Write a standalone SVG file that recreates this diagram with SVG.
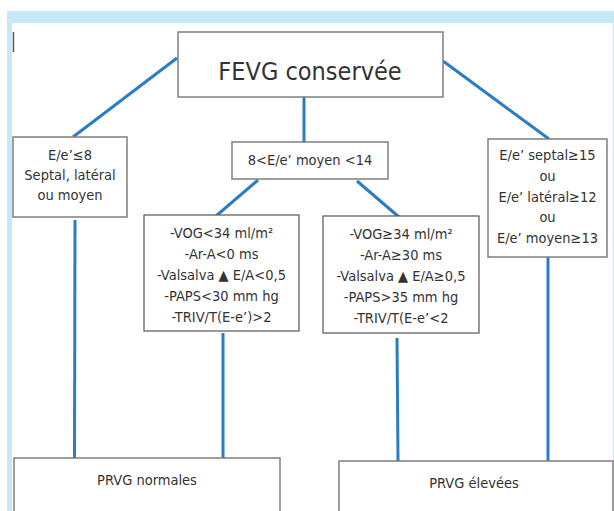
<svg xmlns="http://www.w3.org/2000/svg" width="614" height="511" viewBox="0 0 614 511">
<style>
.t{font-family:"DejaVu Sans Condensed","DejaVu Sans","Liberation Sans",sans-serif;font-stretch:condensed;fill:#333;text-anchor:middle;font-size:14.5px}
.box{fill:#fff;stroke:#7f7f7f;stroke-width:1.5}
.box2{fill:#fff;stroke:#555;stroke-width:1.2}
.c{stroke:#2b7cc4;stroke-width:3;fill:none}
</style>
<rect x="0" y="0" width="614" height="511" fill="#fff"/>
<rect x="7" y="11" width="607" height="500" fill="#c6e9f8"/>
<rect x="12" y="23" width="601" height="488" fill="#fff"/>
<line x1="13.5" y1="32" x2="13.5" y2="52" stroke="#555" stroke-width="1.5"/>
<g id="connectors">
<line class="c" x1="177" y1="58" x2="73" y2="137"/>
<line class="c" x1="443" y1="61" x2="549" y2="139"/>
<line class="c" x1="304" y1="97" x2="304" y2="142"/>
<line class="c" x1="258" y1="180" x2="216" y2="216"/>
<line class="c" x1="357" y1="181" x2="399" y2="217"/>
<line class="c" x1="75" y1="220" x2="74.5" y2="458"/>
<line class="c" x1="223" y1="333" x2="223" y2="458"/>
<line class="c" x1="397" y1="338" x2="398" y2="461"/>
<line class="c" x1="548" y1="257" x2="548" y2="461"/>
</g>
<g id="fevg">
<rect class="box" x="178" y="32" width="265" height="65"/>
<text class="t" x="310" y="80" style="font-size:25px">FEVG conservée</text>
</g>
<g id="ee-low">
<rect class="box" x="13" y="137" width="114" height="80"/>
<text class="t" x="70" y="160">E/e’≤8</text>
<text class="t" x="70" y="180">Septal, latéral</text>
<text class="t" x="70" y="200">ou moyen</text>
</g>
<g id="ee-mid">
<rect class="box" x="232" y="142" width="156" height="37"/>
<text class="t" x="310" y="165">8&lt;E/e’ moyen &lt;14</text>
</g>
<g id="ee-high">
<rect class="box" x="488" y="139" width="119" height="118"/>
<text class="t" x="547.5" y="160">E/e’ septal≥15</text>
<text class="t" x="547.5" y="181">ou</text>
<text class="t" x="547.5" y="202">E/e’ latéral≥12</text>
<text class="t" x="547.5" y="222">ou</text>
<text class="t" x="547.5" y="243">E/e’ moyen≥13</text>
</g>
<g id="crit-normal">
<rect class="box2" x="144" y="215" width="155" height="116"/>
<text class="t" x="221.5" y="238">-VOG&lt;34 ml/m²</text>
<text class="t" x="221.5" y="259">-Ar-A&lt;0 ms</text>
<text class="t" x="221.5" y="280">-Valsalva ▲ E/A&lt;0,5</text>
<text class="t" x="221.5" y="301">-PAPS&lt;30 mm hg</text>
<text class="t" x="221.5" y="322">-TRIV/T(E-e’)&gt;2</text>
</g>
<g id="crit-high">
<rect class="box2" x="323" y="216" width="156" height="117"/>
<text class="t" x="401" y="239">-VOG≥34 ml/m²</text>
<text class="t" x="401" y="260">-Ar-A≥30 ms</text>
<text class="t" x="401" y="281">-Valsalva ▲ E/A≥0,5</text>
<text class="t" x="401" y="302">-PAPS&gt;35 mm hg</text>
<text class="t" x="401" y="323">-TRIV/T(E-e’&lt;2</text>
</g>
<g id="prvg-normal">
<rect class="box" x="14" y="458" width="266" height="60"/>
<text class="t" x="147" y="485">PRVG normales</text>
</g>
<g id="prvg-high">
<rect class="box" x="339" y="461" width="274" height="60"/>
<text class="t" x="474" y="488">PRVG élevées</text>
</g>
</svg>
